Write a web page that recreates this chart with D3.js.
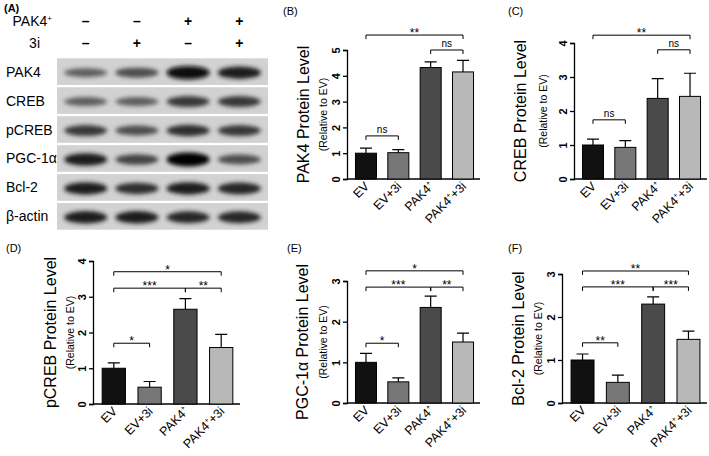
<!DOCTYPE html>
<html><head><meta charset="utf-8">
<script src="https://cdn.jsdelivr.net/npm/d3@7"></script>
<style>body{margin:0;background:#fff}text{font-family:Arial,"Liberation Sans",sans-serif}</style>
</head><body><svg id="fig" width="709" height="456"></svg>
<script>
let groups = ['EV', 'EV+3i', 'PAK4+', 'PAK4++3i']
let colors = ['#111', '#777', '#4a4a4a', '#b8b8b8']

// panels B-F: means, errors, brackets [from, to, level, label]
let pak4Mean = [1.0, 1.02, 4.32, 4.15], pak4Err = [0.2, 0.12, 0.22, 0.45]
let pak4Brk = [[0, 3, 5.58, '**'], [2, 3, 5.0, 'ns'], [0, 1, 1.67, 'ns']]
let crebMean = [1.0, 0.93, 2.37, 2.43], crebErr = [0.17, 0.2, 0.58, 0.68]
let crebBrk = [[0, 3, 4.23, '**'], [2, 3, 3.8, 'ns'], [0, 1, 1.74, 'ns']]
let pcrebMean = [1.0, 0.47, 2.65, 1.58], pcrebErr = [0.15, 0.16, 0.3, 0.37]
let pcrebBrk = [[0, 3, 3.7, '*'], [0, 2, 3.24, '***'], [2, 3, 3.24, '**'], [0, 1, 1.7, '*']]
let pgcMean = [1.0, 0.52, 2.35, 1.5], pgcErr = [0.22, 0.1, 0.28, 0.22]
let pgcBrk = [[0, 3, 3.25, '*'], [0, 2, 2.85, '***'], [2, 3, 2.85, '**'], [0, 1, 1.47, '*']]
let bclMean = [1.0, 0.48, 2.3, 1.48], bclErr = [0.14, 0.17, 0.17, 0.19]
let bclBrk = [[0, 3, 3.07, '**'], [0, 2, 2.7, '***'], [2, 3, 2.7, '***'], [0, 1, 1.4, '**']]

// western blot rows and relative band strength per lane
let blotRows = ['PAK4', 'CREB', 'pCREB', 'PGC-1α', 'Bcl-2', 'β-actin']
let blotBands = [[0.5, 0.6, 0.95, 0.85], [0.5, 0.5, 0.7, 0.7], [0.7, 0.6, 0.75, 0.7],
                 [0.85, 0.65, 1.0, 0.6], [0.85, 0.75, 0.85, 0.8], [0.85, 0.85, 0.8, 0.8]]
let pakSigns = ['–', '–', '+', '+'], inhSigns = ['–', '+', '–', '+']

let svg = d3.select('#fig')
let defs = svg.append('defs')
defs.append('filter').attr('id', 'blur').attr('x', '-20%').attr('y', '-50%').attr('width', '140%').attr('height', '200%')
  .append('feGaussianBlur').attr('stdDeviation', 2.2)

// (A) blot
svg.append('text').attr('x', 4).attr('y', 12).attr('font-size', 11).attr('font-weight', 'bold').text('(A)')
let lanes = d3.scaleBand().domain(d3.range(4)).range([57, 268]).padding(0.12)
let laneX = i => lanes(i) + lanes.bandwidth() / 2
let signRows = [['PAK4', pakSigns, 26], ['3i', inhSigns, 48]]
signRows.forEach(([lab, signs, y]) => {
  let t = svg.append('text').attr('x', lab === 'PAK4' ? 52 : 40).attr('y', y).attr('font-size', 14).attr('text-anchor', 'end').text(lab)
  if (lab === 'PAK4') t.append('tspan').attr('font-size', 8).attr('dy', -5).text('+')
  svg.selectAll(null).data(signs).enter().append('text')
    .attr('x', (d, i) => laneX(i)).attr('y', y).attr('text-anchor', 'middle')
    .attr('font-size', 14).attr('font-weight', 'bold').text(d => d)
})
let rowY = d3.scaleBand().domain(d3.range(6)).range([56, 232]).padding(0.08)
blotRows.forEach((name, r) => {
  let y = rowY(r), h = rowY.bandwidth()
  svg.append('rect').attr('x', 57).attr('y', y).attr('width', 211).attr('height', h).attr('fill', '#d2d2d2')
  svg.append('text').attr('x', 6).attr('y', y + h / 2 + 5).attr('font-size', 14).text(name)
  blotBands[r].forEach((v, i) => {
    svg.append('ellipse').attr('cx', laneX(i)).attr('cy', y + h / 2 + 1)
      .attr('rx', lanes.bandwidth() / 2 - 1).attr('ry', 2 + 5 * v)
      .attr('fill', d3.interpolateGreys(0.4 + 0.6 * v)).attr('filter', 'url(#blur)')
  })
})

function drawPanel(cfg) {
  let { label, lx, ly, name, mean, err, brk, max, ax, y0, ytop, x1, bigX, smallX } = cfg
  let y = d3.scaleLinear().domain([0, max]).range([y0, ytop])
  let x = d3.scaleBand().domain(groups).range([ax + 2, x1]).paddingInner(0.35).paddingOuter(0.2)
  let g = svg.append('g')
  g.append('text').attr('x', lx).attr('y', ly).attr('font-size', 11).text(label)
  let yAxis = g.append('g').attr('transform', `translate(${ax},0)`)
    .call(d3.axisLeft(y).ticks(max).tickSize(4).tickFormat(d3.format('d')))
  yAxis.selectAll('text').attr('transform', 'rotate(-90)').attr('x', 0).attr('y', -7)
    .attr('dy', 0).attr('text-anchor', 'middle').attr('font-size', 11).attr('font-weight', 'bold')
  yAxis.selectAll('line,path').attr('stroke', '#000').attr('stroke-width', 1.3)
  let xAxis = g.append('g').attr('transform', `translate(0,${y0})`)
    .call(d3.axisBottom(x).tickSize(0).tickFormat(''))
  xAxis.select('path').attr('d', `M${ax},0H${x1}`).attr('stroke', '#000').attr('stroke-width', 1.3)
  groups.forEach((gname, i) => {
    let t = g.append('text').attr('font-size', 12.5).attr('text-anchor', 'end')
      .attr('transform', `translate(${x(gname) + x.bandwidth() / 2 + 4},${y0 + 8}) rotate(-45)`)
    if (gname.startsWith('PAK4')) {
      t.append('tspan').text('PAK4')
      t.append('tspan').attr('font-size', 7).attr('dy', -5).text('+')
      if (gname.length > 5) t.append('tspan').attr('dy', 5).text('+3i')
    } else t.text(gname)
  })
  let xc = i => x(groups[i]) + x.bandwidth() / 2
  g.selectAll('.bar').data(mean).enter().append('rect')
    .attr('x', (d, i) => x(groups[i])).attr('y', d => y(d))
    .attr('width', x.bandwidth()).attr('height', d => y0 - y(d))
    .attr('fill', (d, i) => colors[i]).attr('stroke', '#000').attr('stroke-width', 1)
  mean.forEach((m, i) => {
    g.append('path').attr('d', `M${xc(i)},${y(m)}V${y(m + err[i])}M${xc(i) - 6},${y(m + err[i])}H${xc(i) + 6}`)
      .attr('stroke', '#000').attr('stroke-width', 1.2).attr('fill', 'none')
  })
  brk.forEach(([a, b, lv, lab]) => {
    let yy = y(lv)
    g.append('path').attr('d', `M${xc(a)},${yy + 4}V${yy}H${xc(b)}V${yy + 4}`)
      .attr('stroke', '#000').attr('stroke-width', 1).attr('fill', 'none')
    g.append('text').attr('x', (xc(a) + xc(b)) / 2).attr('y', lab === 'ns' ? yy - 3 : yy + 2)
      .attr('text-anchor', 'middle').attr('font-size', lab === 'ns' ? 10 : 12).text(lab)
  })
  let cy = (y0 + ytop) / 2
  g.append('text').attr('transform', `translate(${bigX},${cy}) rotate(-90)`)
    .attr('text-anchor', 'middle').attr('font-size', 16).text(name)
  g.append('text').attr('transform', `translate(${smallX},${cy}) rotate(-90)`)
    .attr('text-anchor', 'middle').attr('font-size', 10.5).text('(Relative to EV)')
}

drawPanel({ label: '(B)', lx: 283, ly: 15, name: 'PAK4 Protein Level', mean: pak4Mean, err: pak4Err, brk: pak4Brk, max: 5, ax: 347, y0: 179, ytop: 50, x1: 480, bigX: 309, smallX: 327 })
drawPanel({ label: '(C)', lx: 508, ly: 15, name: 'CREB  Protein Level', mean: crebMean, err: crebErr, brk: crebBrk, max: 4, ax: 574, y0: 179, ytop: 43, x1: 707, bigX: 526, smallX: 547 })
drawPanel({ label: '(D)', lx: 6, ly: 252, name: 'pCREB Protein Level', mean: pcrebMean, err: pcrebErr, brk: pcrebBrk, max: 4, ax: 93, y0: 404, ytop: 261, x1: 240, bigX: 56, smallX: 74 })
drawPanel({ label: '(E)', lx: 287, ly: 252, name: 'PGC-1α Protein Level', mean: pgcMean, err: pgcErr, brk: pgcBrk, max: 3, ax: 347, y0: 403, ytop: 281, x1: 480, bigX: 308, smallX: 327 })
drawPanel({ label: '(F)', lx: 508, ly: 252, name: 'Bcl-2  Protein Level', mean: bclMean, err: bclErr, brk: bclBrk, max: 3, ax: 562, y0: 403, ytop: 274, x1: 707, bigX: 524, smallX: 542 })
</script></body></html>
